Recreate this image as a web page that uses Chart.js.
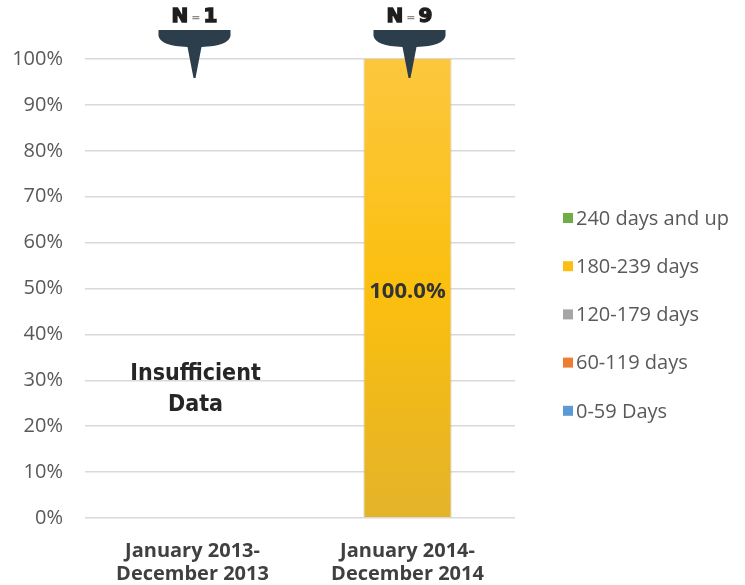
<!DOCTYPE html>
<html>
<head>
<meta charset="utf-8">
<script src="https://cdn.jsdelivr.net/npm/chart.js@4.4.1/dist/chart.umd.min.js"></script>
<style>
  html, body { margin: 0; padding: 0; background: #ffffff; }
  #wrap { width: 745px; height: 585px; }
</style>
</head>
<body>
<div id="wrap"><canvas id="chart" width="745" height="585"></canvas></div>
<script>
// periods on the x axis (two-line labels)
const periods = [
    ["January 2013-", "December 2013"],
    ["January 2014-", "December 2014"]
];
// number of cases per period
const nCounts = [1, 9];
// series: share of cases per time-to-disposition band (%)
const days0to59    = [0, 0];
const days60to119  = [0, 0];
const days120to179 = [0, 0];
const days180to239 = [0, 100];
const days240up    = [0, 0];
const yTicks = [0, 10, 20, 30, 40, 50, 60, 70, 80, 90, 100];

const TXT = "#595959";
const GOLD = "#fbbf14";

/* gold bar gets a soft vertical gradient */
function goldFill (ctx) {
    const area = ctx.chart.chartArea;
    if (!area) { return GOLD; }
    const g = ctx.chart.ctx.createLinearGradient(0, area.top, 0, area.bottom);
    g.addColorStop(0, "#fcc73e");
    g.addColorStop(0.5, "#fbbf0e");
    g.addColorStop(1, "#e3b32a");
    return g;
}

/* legend on the right, top item = last series */
const sideLegend = {
    id: "sideLegend",
    afterDraw (chart) {
        const c = chart.ctx;
        const dss = chart.data.datasets;
        const x = chart.chartArea.right + 48;
        let y = 219;
        c.save();
        c.font = "20px 'Open Sans'";
        c.textAlign = "left";
        c.textBaseline = "middle";
        for (let i = dss.length - 1; i >= 0; i--) {
            const bg = dss[i].backgroundColor;
            c.fillStyle = typeof bg === "function" ? GOLD : bg;
            c.fillRect(x, y - 6, 10, 10);
            c.fillStyle = TXT;
            c.fillText(dss[i].label, x + 13, y);
            y += 48.2;
        }
        c.restore();
    }
};

/* "N = x" callouts, value label and the insufficient-data note */
const overlay = {
    id: "overlay",
    afterDraw (chart) {
        const c = chart.ctx;
        const xs = chart.scales.x;
        const ys = chart.scales.y;
        const top = chart.chartArea.top;
        c.save();
        nCounts.forEach((n, i) => {
            const cx = xs.getPixelForValue(i) + 2;
            const t = top - 29;
            c.fillStyle = "#2c3d4b";
            c.beginPath();
            c.moveTo(cx - 36, t);
            c.lineTo(cx + 36, t);
            c.lineTo(cx + 36, t + 6);
            c.quadraticCurveTo(cx + 34, t + 16, cx + 7, t + 17);
            c.lineTo(cx + 1, top + 19);
            c.lineTo(cx - 1, top + 19);
            c.lineTo(cx - 7, t + 17);
            c.quadraticCurveTo(cx - 34, t + 16, cx - 36, t + 6);
            c.closePath();
            c.fill();

            // N = n
            const big = "bold 20px 'DejaVu Sans'";
            const small = "bold 11px 'DejaVu Sans'";
            c.textBaseline = "middle";
            c.font = big;
            const wN = c.measureText("N").width;
            const wV = c.measureText(String(n)).width;
            c.font = small;
            const wE = c.measureText("=").width;
            const gap = 3;
            let x = cx - (wN + wE + wV + gap * 2) / 2;
            c.textAlign = "left";
            c.lineWidth = 1.4;
            c.fillStyle = "#1e1e1e";
            c.strokeStyle = "#1e1e1e";
            c.font = big;
            c.fillText("N", x, 17);
            c.strokeText("N", x, 17);
            x += wN + gap;
            c.fillStyle = "#8a8a8a";
            c.font = small;
            c.fillText("=", x, 18);
            x += wE + gap;
            c.fillStyle = "#1e1e1e";
            c.font = big;
            c.fillText(String(n), x, 17);
            c.strokeText(String(n), x, 17);
        });

        // value labels for non-zero segments
        chart.data.datasets.forEach((ds, di) => {
            const meta = chart.getDatasetMeta(di);
            ds.data.forEach((v, i) => {
                if (!v) { return; }
                const bar = meta.data[i];
                c.fillStyle = "#333333";
                c.font = "bold 22px 'Open Sans'";
                c.textAlign = "center";
                c.textBaseline = "middle";
                c.fillText(v.toFixed(1) + "%", bar.x, ys.getPixelForValue(50) + 3);
            });
        });

        // insufficient data note under the N=1 callout
        const cx0 = xs.getPixelForValue(0) + 3;
        c.fillStyle = "#262626";
        c.font = "bold 23px 'Liberation Sans Narrow', 'DejaVu Sans Condensed'";
        c.textAlign = "center";
        c.textBaseline = "middle";
        c.fillText("Insufficient", cx0, ys.getPixelForValue(31.8) + 2);
        c.fillText("Data", cx0, ys.getPixelForValue(25) + 2);
        c.restore();
    }
};

new Chart(document.getElementById("chart").getContext("2d"), {
    type: "bar",
    data: {
        labels: periods,
        datasets: [
            { label: "0-59 Days",       data: days0to59,    backgroundColor: "#5b9bd5" },
            { label: "60-119 days",     data: days60to119,  backgroundColor: "#ed7d31" },
            { label: "120-179 days",    data: days120to179, backgroundColor: "#a5a5a5" },
            { label: "180-239 days",    data: days180to239, backgroundColor: goldFill,
              borderColor: "rgba(160,160,160,0.55)", borderWidth: { left: 1, right: 1, top: 0, bottom: 0 } },
            { label: "240 days and up", data: days240up,    backgroundColor: "#70ad47" }
        ]
    },
    options: {
        responsive: false,
        animation: false,
        categoryPercentage: 1.0,
        barPercentage: 0.41,
        layout: { padding: { top: 59, left: 13, right: 230, bottom: 0 } },
        plugins: {
            tooltip: { enabled: false },
            legend: { display: false }
        },
        scales: {
            x: {
                stacked: true,
                grid: { display: false },
                border: { display: false },
                afterFit (scale) { scale.height = 67; },
                ticks: {
                    color: "#404040",
                    font: { family: "'Open Sans'", size: 20, weight: "bold", lineHeight: 1.15 },
                    padding: 14,
                    maxRotation: 0
                }
            },
            y: {
                stacked: true,
                min: 0,
                max: 100,
                afterBuildTicks (axis) { axis.ticks = yTicks.map(v => ({ value: v })); },
                afterFit (scale) { scale.width = 72; },
                grid: { color: "#d9d9d9", lineWidth: 1.5, drawTicks: false },
                border: { display: false },
                ticks: {
                    color: TXT,
                    padding: 22,
                    font: { family: "'Open Sans'", size: 20 },
                    callback: v => v + "%"
                }
            }
        }
    },
    plugins: [overlay, sideLegend]
});
</script>
</body>
</html>
